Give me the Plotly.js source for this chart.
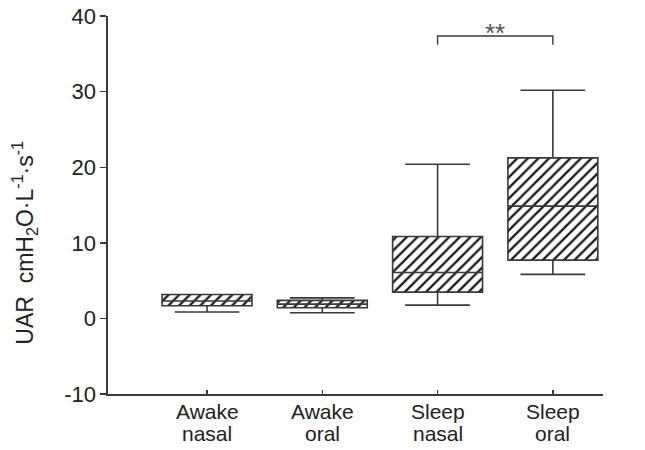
<!DOCTYPE html>
<html>
<head>
<meta charset="utf-8">
<script src="https://cdn.plot.ly/plotly-3.0.1.min.js"></script>
<style>html,body{margin:0;padding:0;background:#fff;}#chart{width:645px;height:450px;}</style>
</head>
<body>
<div id="chart"></div>
<script>
// Data
var categories = ['Awake nasal', 'Awake oral', 'Sleep nasal', 'Sleep oral'];
var labelTop = ['Awake', 'Awake', 'Sleep', 'Sleep'];
var labelBottom = ['nasal', 'oral', 'nasal', 'oral'];
var positions = [0, 1, 2, 3];
var lowerWhisker = [0.85, 0.74, 1.76, 5.82];
var q1 = [1.67, 1.40, 3.48, 7.71];
var median = [2.30, 1.89, 6.08, 14.85];
var q3 = [3.17, 2.38, 10.84, 21.23];
var upperWhisker = [3.17, 2.72, 20.40, 30.18];
var yTickVals = [-10, 0, 10, 20, 30, 40];
var yTickText = ['-10', '0', '10', '20', '30', '40'];
var bracketX = [2, 2, 3, 3];
var bracketY = [36.2, 37.35, 37.35, 36.2];
var sigLabel = '**';
var sigY = 37.8;

var FONT = 'Liberation Sans, Arial, sans-serif';
var TEXT = '#222';
var LINE = '#3a3a3a';
var BOXW = 0.78;

var iqr = q3.map(function (v, i) { return v - q1[i]; });

var traces = [
  {
    type: 'bar',
    x: positions,
    base: q1,
    y: iqr,
    width: BOXW,
    marker: {
      color: 'white',
      line: {width: 0},
      pattern: {shape: '/', size: 7.5, solidity: 0.3, fgcolor: '#1a1a1a', bgcolor: 'white', fillmode: 'replace'}
    },
    hoverinfo: 'skip',
    showlegend: false
  },
  {
    type: 'box',
    x: positions,
    q1: q1,
    median: median,
    q3: q3,
    lowerfence: lowerWhisker,
    upperfence: upperWhisker,
    width: BOXW,
    whiskerwidth: 0.72,
    boxpoints: false,
    fillcolor: 'rgba(0,0,0,0)',
    line: {color: LINE, width: 1.6},
    showlegend: false
  },
  {
    type: 'scatter',
    mode: 'lines',
    x: bracketX,
    y: bracketY,
    line: {color: LINE, width: 1.4},
    hoverinfo: 'skip',
    showlegend: false
  }
];

var annotations = [];
positions.forEach(function (p, i) {
  annotations.push({x: p, xref: 'x', y: 0, yref: 'paper', yanchor: 'top', yshift: -4,
    text: labelTop[i], showarrow: false, font: {family: FONT, size: 21, color: TEXT}});
  annotations.push({x: p, xref: 'x', y: 0, yref: 'paper', yanchor: 'top', yshift: -26,
    text: labelBottom[i], showarrow: false, font: {family: FONT, size: 21, color: TEXT}});
});
annotations.push({x: 2.5, xref: 'x', y: sigY, yref: 'y', text: sigLabel, showarrow: false,
  font: {family: FONT, size: 26, color: '#555'}});
annotations.push({x: -0.17, xref: 'paper', y: 0.40, yref: 'paper', xanchor: 'center', yanchor: 'middle',
  textangle: -90, showarrow: false,
  text: 'UAR  cmH<sub>2</sub>O·L<sup>-1</sup>·s<sup>-1</sup>',
  font: {family: FONT, size: 23, color: TEXT}});

var layout = {
  width: 645,
  height: 450,
  margin: {l: 108, r: 42, t: 16, b: 56},
  paper_bgcolor: 'white',
  plot_bgcolor: 'white',
  showlegend: false,
  barmode: 'overlay',
  xaxis: {
    range: [-0.859, 3.435],
    tickvals: positions,
    ticktext: categories,
    showticklabels: false,
    ticks: 'inside',
    ticklen: 4,
    tickwidth: 1.4,
    tickcolor: LINE,
    showline: true,
    linecolor: LINE,
    linewidth: 1.6,
    showgrid: false,
    zeroline: false,
    fixedrange: true
  },
  yaxis: {
    range: [-10, 40],
    tickvals: yTickVals,
    ticktext: yTickText,
    ticks: 'outside',
    ticklen: 6,
    tickwidth: 1.4,
    tickcolor: LINE,
    showline: true,
    linecolor: LINE,
    linewidth: 1.6,
    showgrid: false,
    zeroline: false,
    tickfont: {family: FONT, size: 22, color: TEXT},
    fixedrange: true
  },
  annotations: annotations
};

Plotly.newPlot('chart', traces, layout, {staticPlot: true, displayModeBar: false});
</script>
</body>
</html>
